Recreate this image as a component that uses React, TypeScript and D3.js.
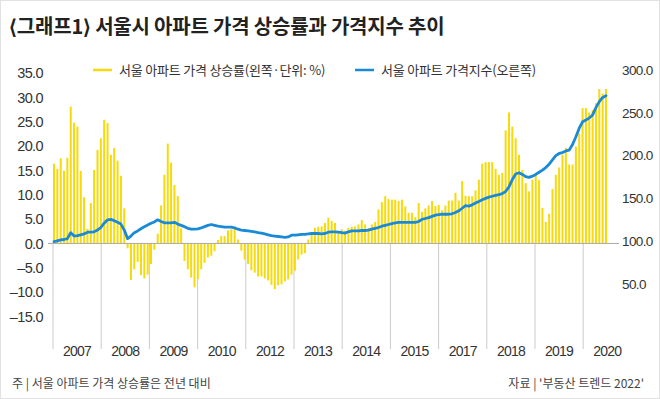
import React, { useEffect, useRef } from 'react';
import * as d3 from 'd3';

// 월별 서울 아파트 가격 상승률 (전년 대비, %)
const riseRate = [
  16.4, 15.3, 17.5, 14.9, 17.6, 28.1, 24.8, 24.0, 14.9, 9.5, 3.0, 8.3, 15.1, 19.2, 21.6, 25.4,
  24.7, 18.2, 19.6, 17.0, 13.9, 7.2, -1.0, -7.5, -5.3, -3.8, -6.5, -7.2, -6.4, -4.2, -1.3, 2.0,
  7.8, 14.1, 20.5, 16.6, 12.0, 9.7, 3.1, -3.6, -5.3, -7.0, -9.0, -7.3, -5.3, -4.0, -2.9, -2.5,
  -1.6, 0.7, 1.5, 1.5, 2.7, 2.9, 3.2, 0.8, -1.5, -3.3, -4.2, -5.5, -6.0, -6.8, -6.8, -7.2,
  -7.6, -8.5, -9.4, -8.6, -8.4, -7.8, -7.4, -6.4, -5.6, -3.3, -2.3, -2.0, 0.8, 2.2, 3.2, 3.4,
  3.5, 4.2, 5.3, 4.6, 4.2, 2.4, 2.9, 2.6, 3.2, 3.4, 3.5, 3.9, 4.8, 3.9, 3.2, 3.9,
  4.4, 7.0, 8.5, 9.7, 9.1, 9.0, 9.0, 8.7, 9.0, 7.6, 6.3, 6.3, 5.4, 8.3, 6.5, 7.2,
  7.8, 8.7, 7.7, 7.9, 6.8, 7.8, 8.8, 8.8, 10.4, 8.8, 12.8, 9.8, 9.7, 9.7, 10.9, 13.1,
  16.4, 16.7, 16.7, 16.7, 15.3, 14.1, 14.5, 23.2, 26.9, 24.0, 21.6, 18.2, 15.1, 12.4, 10.7, 13.1,
  14.1, 13.0, 7.3, 4.4, 6.1, 11.2, 14.1, 15.6, 18.2, 19.6, 16.2, 16.2, 19.9, 22.6, 27.8, 27.8,
  26.9, 27.4, 28.8, 31.7, 30.8, 31.7,
];

// 서울 아파트 가격지수
const priceIndex = [
  99.5, 100.5, 101.5, 102, 103, 110, 106, 106.5, 107.5, 108.5, 110.5, 110.5, 111, 113, 116, 121,
  125, 125.5, 124, 122, 120, 113, 103, 106, 110, 112, 114.5, 117, 119, 121, 122.5, 125,
  123, 121.5, 121.5, 121.5, 122, 120, 118.5, 117, 115, 114, 114, 114.5, 115.5, 117, 118.5, 119.5,
  118.5, 117.5, 117, 116.5, 116.5, 116.5, 115.5, 114, 113, 112.5, 112, 111.5, 111, 110, 109.5, 108.5,
  107.5, 106.5, 106, 105.5, 105, 104.5, 105, 107, 107, 107.5, 108, 108, 108.5, 109, 109, 109,
  108.5, 109, 110.5, 111, 111, 110.5, 110, 109.5, 111, 112, 112, 112, 112.5, 112.5, 113, 114,
  115, 116, 117.5, 118.5, 119.5, 120.5, 121.5, 122, 122, 122, 122, 122, 122, 123, 125.5, 126.5,
  127.5, 129, 130.5, 131, 131.5, 131.5, 131.5, 132, 133.5, 135.5, 138.5, 141.5, 141, 142.5, 144.5, 146.5,
  148.5, 150, 151.5, 152.5, 153.5, 154.5, 155.5, 158, 163.5, 172, 178.5, 180, 178, 175.5, 174.5, 176,
  178, 180.5, 183, 186, 190, 195, 200, 202.5, 203.5, 205.5, 206.5, 213, 222, 232, 239.5, 241.5,
  244, 247.5, 256, 263, 268, 270,
];

const yearLabels = ['2007', '2008', '2009', '2010', '2012', '2013', '2014', '2015', '2017', '2018', '2019', '2020'];
const leftTicks = [35, 30, 25, 20, 15, 10, 5, 0, -5, -10, -15];
const rightTicks = [300, 250, 200, 150, 100, 50];

const W = 660;
const H = 399;
const KR = "'Noto Sans CJK KR', 'Noto Sans', sans-serif";
const NUM = "'Liberation Sans', Arial, sans-serif";
const NARROW = "'Liberation Sans Narrow', 'Liberation Sans', sans-serif";
const YELLOW = '#f6da0c';
const BLUE = '#1a8ad6';

// 마이너스 기호는 en dash로
const fmt = (d: number) => d3.format('.1f')(d).replace('−', '–');

const App = () => {
  const svgRef = useRef(null);

  useEffect(() => {
    const svg = d3.select(svgRef.current);
    svg.selectAll('*').remove();

    svg.append('rect')
      .attr('x', 0.5).attr('y', 0.5)
      .attr('width', W - 1).attr('height', H - 1)
      .attr('fill', '#fff').attr('stroke', '#e2e2e2');

    // scales
    const x = d3.scaleBand()
      .domain(riseRate.map((d, i) => i))
      .range([53, 607])
      .paddingInner(0.4);

    const yL = d3.scaleLinear().domain([-15, 35]).range([316.5, 73]);
    const yR = d3.scaleLinear().domain([50, 300]).range([284, 70]);
    const yearX = d3.scaleLinear().domain([0, 12]).range([53, 631.4]);

    // title
    svg.append('text')
      .attr('x', 9)
      .attr('y', 34)
      .style('font-family', KR)
      .style('font-size', '20px')
      .style('font-weight', 'bold')
      .style('letter-spacing', '-0.2px')
      .style('fill', '#222')
      .text('⟨그래프1⟩ 서울시 아파트 가격 상승률과 가격지수 추이');

    // legend
    const legend = [
      { x: 93, color: YELLOW, label: '서울 아파트 가격 상승률(왼쪽·단위: %)' },
      { x: 355, color: BLUE, label: '서울 아파트 가격지수(오른쪽)' },
    ];
    legend.forEach(l => {
      svg.append('line')
        .attr('x1', l.x).attr('x2', l.x + 19)
        .attr('y1', 70).attr('y2', 70)
        .attr('stroke', l.color).attr('stroke-width', 2.5);
      svg.append('text')
        .attr('x', l.x + 26)
        .attr('y', 74.5)
        .style('font-family', KR)
        .style('font-size', '13px')
        .style('letter-spacing', '-0.2px')
        .style('fill', '#333')
        .text(l.label);
    });

    // left axis labels
    svg.append('g').selectAll('text')
      .data(leftTicks)
      .enter()
      .append('text')
      .attr('x', 43)
      .attr('y', d => yL(d))
      .attr('dy', '0.36em')
      .attr('text-anchor', 'end')
      .style('font-family', NUM)
      .style('font-size', '14.5px')
      .style('letter-spacing', '-0.6px')
      .style('fill', '#333')
      .text(d => fmt(d));

    // right axis labels
    svg.append('g').selectAll('text')
      .data(rightTicks)
      .enter()
      .append('text')
      .attr('x', 622)
      .attr('y', d => yR(d))
      .attr('dy', '0.36em')
      .style('font-family', NUM)
      .style('font-size', '13.5px')
      .style('letter-spacing', '-0.6px')
      .style('fill', '#333')
      .text(d => fmt(d));

    // year separators below zero line
    svg.append('g').selectAll('line')
      .data(d3.range(12))
      .enter()
      .append('line')
      .attr('x1', d => yearX(d)).attr('x2', d => yearX(d))
      .attr('y1', yL(0)).attr('y2', 349)
      .attr('stroke', '#cbcbcb')
      .attr('stroke-width', 1);

    svg.append('g').selectAll('text')
      .data(yearLabels)
      .enter()
      .append('text')
      .attr('x', (d, i) => yearX(i + 0.5))
      .attr('y', 355.5)
      .attr('text-anchor', 'middle')
      .style('font-family', NARROW)
      .style('font-size', '14px')
      .style('letter-spacing', '-0.8px')
      .style('fill', '#333')
      .text(d => d);

    // bars
    svg.append('g').selectAll('rect')
      .data(riseRate)
      .enter()
      .append('rect')
      .attr('x', (d, i) => x(i))
      .attr('y', d => yL(Math.max(0, d)))
      .attr('width', x.bandwidth())
      .attr('height', d => Math.abs(yL(d) - yL(0)))
      .attr('fill', YELLOW);

    // zero line
    svg.append('line')
      .attr('x1', 48).attr('x2', 619)
      .attr('y1', yL(0)).attr('y2', yL(0))
      .attr('stroke', '#a8a8a8')
      .attr('stroke-width', 1);

    // price index line
    const line = d3.line()
      .x((d, i) => x(i) + x.bandwidth() / 2)
      .y(d => yR(d))
      .curve(d3.curveLinear);

    svg.append('path')
      .datum(priceIndex)
      .attr('d', line)
      .attr('fill', 'none')
      .attr('stroke', BLUE)
      .attr('stroke-width', 2.8)
      .attr('stroke-linejoin', 'round')
      .attr('stroke-linecap', 'round');

    // footer
    svg.append('text')
      .attr('x', 12)
      .attr('y', 388)
      .style('font-family', KR)
      .style('font-size', '12px')
      .style('fill', '#444')
      .text('주 | 서울 아파트 가격 상승률은 전년 대비');

    svg.append('text')
      .attr('x', 644)
      .attr('y', 388)
      .attr('text-anchor', 'end')
      .style('font-family', KR)
      .style('font-size', '12px')
      .style('fill', '#444')
      .text("자료 | '부동산 트렌드 2022'");
  }, []);

  return (
    <div style={{ position: 'fixed', left: 0, top: 0, background: '#fff' }}>
      <svg ref={svgRef} width={W} height={H} style={{ display: 'block' }}></svg>
    </div>
  );
};

export default App;
